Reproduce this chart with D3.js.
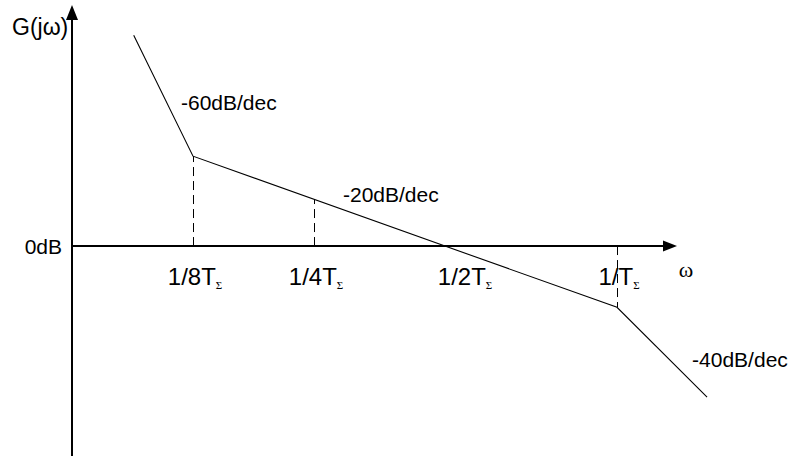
<!DOCTYPE html>
<html>
<head>
<meta charset="utf-8">
<script src="https://cdn.jsdelivr.net/npm/d3@7"></script>
<style>
  html, body { margin: 0; padding: 0; background: #fff; }
  svg { display: block; }
  text { font-family: "Liberation Sans", Arial, sans-serif; fill: #000; }
</style>
</head>
<body>
<svg id="chart" width="791" height="456"></svg>
<script>
// Frequency tick values (in units of 1/T) and their labels
const omegaTicks = [1/8, 1/4, 1/2, 1];
const tickLabels = ["1/8T", "1/4T", "1/2T", "1/T"];

// Asymptotic magnitude curve: corner frequencies and magnitudes in dB
const asymOmega = [0.089, 0.125, 1, 1.5];
const asymDb = [25.1, 10.7, -7.3, -18];

// Slope annotations for the three asymptote segments
const slopeLabels = ["-60dB/dec", "-20dB/dec", "-40dB/dec"];

// Frequencies marked with a dashed drop line
const dashedOmega = [1/8, 1/4, 1];

const W = 791, H = 456;
const svg = d3.select("#chart");

// Piecewise log scale for frequency, linear scale for dB
const x = d3.scaleLog().domain(omegaTicks).range([193, 314, 463, 617]);
const y = d3.scaleLinear().domain([-25, 28.7]).range([456, 5]);

const x0 = 72;          // vertical axis position
const y0 = y(0);        // 0 dB line

// Axes
svg.append("line")
  .attr("x1", x0).attr("y1", H).attr("x2", x0).attr("y2", 16)
  .attr("stroke", "#000").attr("stroke-width", 2);
svg.append("path")
  .attr("d", `M${x0},5 L${x0 - 6},20 L${x0 + 6},20 Z`)
  .attr("fill", "#000");

svg.append("line")
  .attr("x1", x0).attr("y1", y0).attr("x2", 666).attr("y2", y0)
  .attr("stroke", "#000").attr("stroke-width", 2);
svg.append("path")
  .attr("d", `M677,${y0} L663,${y0 - 5.5} L663,${y0 + 5.5} Z`)
  .attr("fill", "#000");

// Asymptote polyline
const pts = asymOmega.map((w, i) => [x(w), y(asymDb[i])]);
svg.append("path")
  .attr("d", d3.line()(pts))
  .attr("fill", "none")
  .attr("stroke", "#000")
  .attr("stroke-width", 1.1);

// Height of the asymptote at a given frequency (linear between drawn vertices)
function curveY(w) {
  const px = x(w);
  for (let i = 0; i < pts.length - 1; i++) {
    const [ax, ay] = pts[i], [bx, by] = pts[i + 1];
    if (px >= ax - 0.01 && px <= bx + 0.01) {
      return ay + (by - ay) * (px - ax) / (bx - ax);
    }
  }
  return y0;
}

// Dashed drop lines, snapped to the pixel grid
svg.selectAll("line.drop")
  .data(dashedOmega)
  .join("line")
  .attr("class", "drop")
  .attr("x1", d => Math.round(x(d)) + 0.5).attr("x2", d => Math.round(x(d)) + 0.5)
  .attr("y1", y0).attr("y2", d => curveY(d))
  .attr("stroke", "#000")
  .attr("stroke-width", 1)
  .attr("stroke-dasharray", "9,5");

// Frequency tick labels with subscript Σ
const tl = svg.selectAll("text.tick")
  .data(omegaTicks)
  .join("text")
  .attr("class", "tick")
  .attr("x", d => x(d) + 2)
  .attr("y", y0 + 39)
  .attr("text-anchor", "middle")
  .style("font-size", "24px");
tl.append("tspan").text((d, i) => tickLabels[i]);
tl.append("tspan")
  .attr("dy", 4)
  .style("font-family", "'Liberation Serif', 'DejaVu Serif', serif")
  .style("font-size", "11px")
  .text("Σ");

// Axis titles
svg.append("text")
  .attr("x", 12).attr("y", 35)
  .style("font-size", "23px")
  .text("G(jω)");
svg.append("text")
  .attr("x", 686).attr("y", 277)
  .attr("text-anchor", "middle")
  .style("font-family", "'Liberation Serif', 'DejaVu Serif', serif")
  .style("font-size", "22px")
  .text("ω");
svg.append("text")
  .attr("x", 62).attr("y", y0 + 8)
  .attr("text-anchor", "end")
  .style("font-size", "21px")
  .text("0dB");

// Slope annotations near each segment
const slopeAnchors = [
  [pts[1][0] - 12, pts[1][1] - 46],
  [x(1/4) + 29, curveY(1/4) + 3],
  [pts[3][0] - 15, pts[3][1] - 30]
];
svg.selectAll("text.slope")
  .data(slopeLabels)
  .join("text")
  .attr("class", "slope")
  .attr("x", (d, i) => slopeAnchors[i][0])
  .attr("y", (d, i) => slopeAnchors[i][1])
  .style("font-size", "21px")
  .text(d => d);
</script>
</body>
</html>
